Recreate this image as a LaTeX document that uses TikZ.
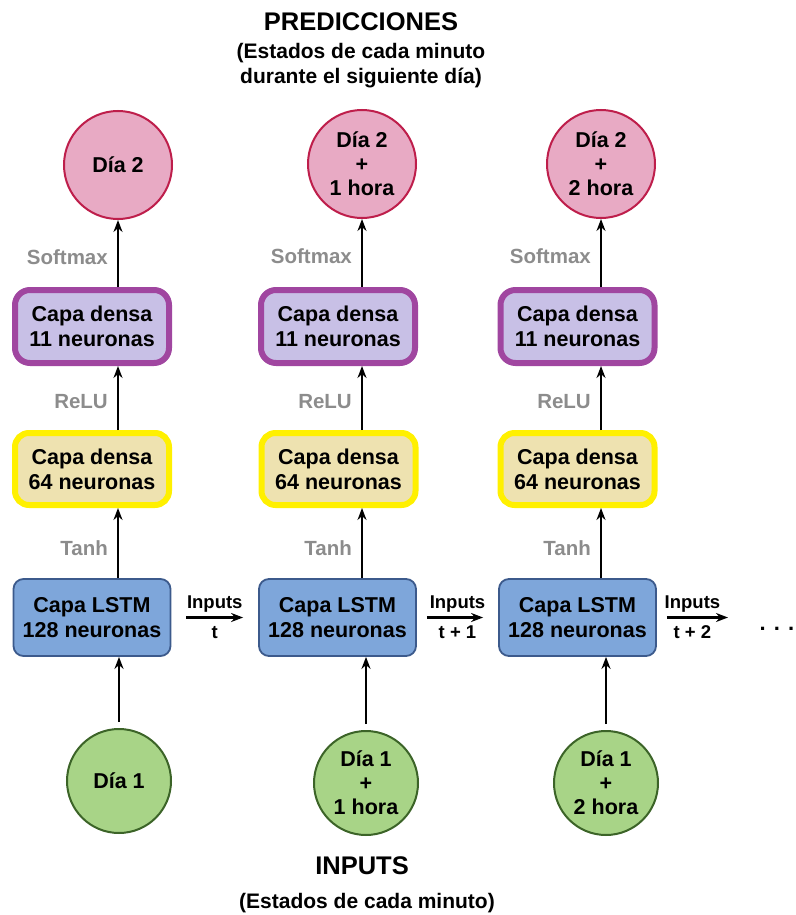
\documentclass[tikz,border=0pt]{standalone}
\usepackage{fontspec}
\setmainfont{Liberation Sans}
\usetikzlibrary{arrows.meta}
\definecolor{predfill}{RGB}{232,170,196}
\definecolor{preddraw}{RGB}{190,30,75}
\definecolor{purfill}{RGB}{200,192,230}
\definecolor{purdraw}{RGB}{160,70,160}
\definecolor{yelfill}{RGB}{238,226,176}
\definecolor{yeldraw}{RGB}{255,240,0}
\definecolor{lstmfill}{RGB}{126,166,218}
\definecolor{lstmdraw}{RGB}{60,90,140}
\definecolor{infill}{RGB}{168,212,135}
\definecolor{indraw}{RGB}{60,100,40}
\definecolor{actgray}{RGB}{140,140,140}
\tikzset{
  txt/.style={font=\fontsize{21.5}{25}\selectfont\bfseries, align=center},
  ctxt/.style={font=\fontsize{21.5}{24}\selectfont\bfseries, align=center},
  predc/.style={circle, ctxt, fill=predfill, draw=preddraw, line width=2pt, minimum size=108pt, inner sep=0pt},
  inc/.style={circle, ctxt, fill=infill, draw=indraw, line width=2pt, minimum size=104pt, inner sep=0pt},
  out11/.style={rectangle, rounded corners=15pt, txt, fill=purfill, draw=purdraw, line width=6pt, minimum width=154pt, minimum height=73pt},
  d64/.style={rectangle, rounded corners=14pt, txt, fill=yelfill, draw=yeldraw, line width=6pt, minimum width=154pt, minimum height=72pt},
  lstm/.style={rectangle, rounded corners=10pt, txt, fill=lstmfill, draw=lstmdraw, line width=1.8pt, minimum width=157pt, minimum height=77pt},
  up/.style={-{Stealth[length=12pt,width=9pt]}, line width=2.4pt},
  act/.style={font=\fontsize{20.5}{22}\selectfont\bfseries, text=actgray, inner sep=0pt},
  inlbl/.style={font=\fontsize{18.5}{21}\selectfont\bfseries, inner sep=0pt},
  title/.style={font=\fontsize{25.5}{28}\selectfont\bfseries},
  subtitle/.style={font=\fontsize{21}{25}\selectfont\bfseries, align=center}
}
\begin{document}
\begin{tikzpicture}[x=1pt,y=-1pt]
\useasboundingbox (0,0) rectangle (795,915);

% headings
\node[title] (ptitle) at (361,22) {PREDICCIONES};
\node[subtitle] (psub) at (361,66) {(Estados de cada minuto\\durante el siguiente día)};
\node[title] (ititle) at (362,866) {INPUTS};
\node[subtitle] (isub) at (367,903) {(Estados de cada minuto)};

% predictions
\node[predc] (p1) at (118,165) {Día 2};
\node[predc] (p2) at (362,164) {Día 2\\+\\1 hora};
\node[predc] (p3) at (601,164) {Día 2\\+\\2 hora};

% dense output layers
\node[out11] (o1) at (92,326.5) {Capa densa\\11 neuronas};
\node[out11] (o2) at (338,326.5) {Capa densa\\11 neuronas};
\node[out11] (o3) at (577.5,326.5) {Capa densa\\11 neuronas};

% dense hidden layers
\node[d64] (h1) at (92,469) {Capa densa\\64 neuronas};
\node[d64] (h2) at (338.5,469) {Capa densa\\64 neuronas};
\node[d64] (h3) at (577.5,469) {Capa densa\\64 neuronas};

% LSTM layers
\node[lstm] (l1) at (92,617.5) {Capa LSTM\\128 neuronas};
\node[lstm] (l2) at (337.5,617.5) {Capa LSTM\\128 neuronas};
\node[lstm] (l3) at (577.5,617.5) {Capa LSTM\\128 neuronas};

% inputs
\node[inc] (i1) at (119,781) {Día 1};
\node[inc] (i2) at (366,783) {Día 1\\+\\1 hora};
\node[inc] (i3) at (606,783) {Día 1\\+\\2 hora};

% vertical flow with activations
\foreach \k in {1,2,3}{
  \draw[up, shorten <=6pt] (i\k.north) -- (l\k.south -| i\k.north);
  \draw[up] (l\k.north -| p\k.south) -- node[act, pos=0.42, left=9pt] {Tanh} (h\k.south -| p\k.south);
  \draw[up] (h\k.north -| p\k.south) -- node[act, pos=0.45, left=9pt] {ReLU} (o\k.south -| p\k.south);
  \draw[up] (o\k.north -| p\k.south) -- node[act, pos=0.45, left=9pt] {Softmax} (p\k.south);
}

% recurrent state passing
\draw[up, shorten <=15pt, shorten >=15pt] (l1.east) -- (l2.west)
  node[inlbl, midway, yshift=13pt] {Inputs} node[inlbl, midway, yshift=-15pt] {t};
\draw[up, shorten <=10pt, shorten >=15pt] (l2.east) -- (l3.west)
  node[inlbl, midway, yshift=13pt] {Inputs} node[inlbl, midway, yshift=-15pt] {t + 1};
\coordinate (next) at (728,617.5);
\draw[up, shorten <=10pt] (l3.east) -- (next)
  node[inlbl, midway, yshift=13pt] {Inputs} node[inlbl, midway, yshift=-15pt] {t + 2};
\node[font=\fontsize{22}{24}\selectfont\bfseries, inner sep=0pt] (dots) at (777,629) {. . .};
\end{tikzpicture}
\end{document}
